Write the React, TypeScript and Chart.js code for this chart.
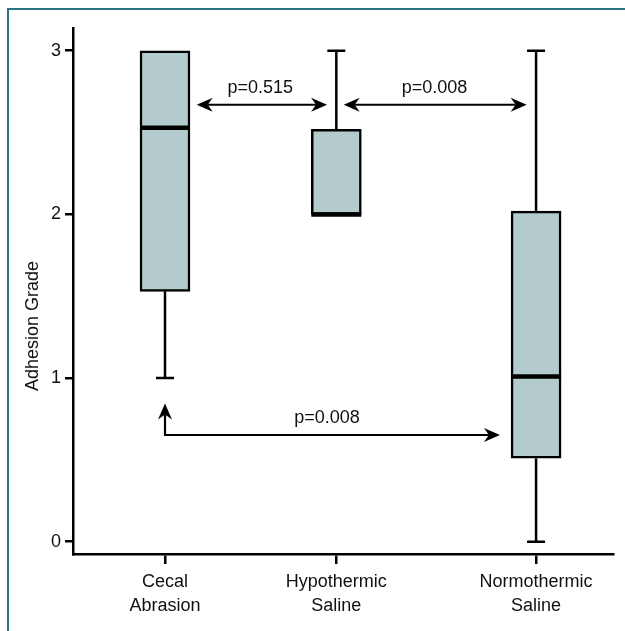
import { useEffect, useRef } from 'react';
import { Chart, registerables } from 'chart.js';

Chart.register(...registerables);

// ---- data ----
const categories = [
  ['Cecal', 'Abrasion'],
  ['Hypothermic', 'Saline'],
  ['Normothermic', 'Saline'],
];
const categoryX = [1, 2, 3.166];
const minValues = [1, 2, 0];
const q1Values = [1.53, 2, 0.51];
const medianValues = [2.53, 2, 1.01];
const q3Values = [3, 2.52, 2.02];
const maxValues = [3, 3, 3];
const yTicks = [0, 1, 2, 3];
const yTitle = 'Adhesion Grade';

// ---- significance annotations (data coordinates) ----
const pLabels = ['p=0.515', 'p=0.008', 'p=0.008'];
const pLabelX = [1.556, 2.573, 1.946];
const pLabelY = [2.775, 2.775, 0.756];
const arrowPaths = [
  [[1.185, 2.67], [1.946, 2.67]],
  [[2.043, 2.67], [3.111, 2.67]],
  [[1, 0.845], [1, 0.652], [2.955, 0.652]],
];

const FONT = '"Liberation Sans", Arial, sans-serif';

function drawHead(ctx: CanvasRenderingContext2D, tx: number, ty: number, dx: number, dy: number) {
  const L = 16, W = 7, N = 11;
  const nx = -dy, ny = dx;
  ctx.beginPath();
  ctx.moveTo(tx, ty);
  ctx.lineTo(tx - dx * L + nx * W, ty - dy * L + ny * W);
  ctx.lineTo(tx - dx * N, ty - dy * N);
  ctx.lineTo(tx - dx * L - nx * W, ty - dy * L - ny * W);
  ctx.closePath();
  ctx.fill();
}

const extrasPlugin = {
  id: 'boxExtras',
  afterDatasetsDraw(chart: any) {
    const { ctx, scales, chartArea } = chart;
    const x = scales.x, y = scales.y;
    ctx.save();
    ctx.strokeStyle = '#000';
    ctx.fillStyle = '#000';
    ctx.lineCap = 'butt';
    categoryX.forEach((cx, i) => {
      const px = x.getPixelForValue(cx);
      ctx.lineWidth = 2.5;
      if (maxValues[i] > q3Values[i]) {
        const a = y.getPixelForValue(q3Values[i]);
        const b = y.getPixelForValue(maxValues[i]);
        ctx.beginPath();
        ctx.moveTo(px, a); ctx.lineTo(px, b);
        ctx.moveTo(px - 9, b); ctx.lineTo(px + 9, b);
        ctx.stroke();
      }
      if (minValues[i] < q1Values[i]) {
        const a = y.getPixelForValue(q1Values[i]);
        const b = y.getPixelForValue(minValues[i]);
        ctx.beginPath();
        ctx.moveTo(px, a); ctx.lineTo(px, b);
        ctx.moveTo(px - 9, b); ctx.lineTo(px + 9, b);
        ctx.stroke();
      }
      const m = y.getPixelForValue(medianValues[i]);
      ctx.lineWidth = 4.5;
      ctx.beginPath();
      ctx.moveTo(px - 25, m); ctx.lineTo(px + 25, m);
      ctx.stroke();
    });

    // arrows
    ctx.lineWidth = 2.2;
    arrowPaths.forEach((path) => {
      const pts = path.map(([vx, vy]) => [x.getPixelForValue(vx), y.getPixelForValue(vy)]);
      const d = (p: number[], q: number[]) => {
        const len = Math.hypot(q[0] - p[0], q[1] - p[1]);
        return [(q[0] - p[0]) / len, (q[1] - p[1]) / len];
      };
      const n = pts.length;
      const [sdx, sdy] = d(pts[1], pts[0]);
      const [edx, edy] = d(pts[n - 2], pts[n - 1]);
      const start = [pts[0][0] - sdx * 11, pts[0][1] - sdy * 11];
      const end = [pts[n - 1][0] - edx * 11, pts[n - 1][1] - edy * 11];
      ctx.beginPath();
      ctx.moveTo(start[0], start[1]);
      for (let k = 1; k < n - 1; k++) ctx.lineTo(pts[k][0], pts[k][1]);
      ctx.lineTo(end[0], end[1]);
      ctx.lineJoin = 'miter';
      ctx.stroke();
      drawHead(ctx, pts[0][0], pts[0][1], sdx, sdy);
      drawHead(ctx, pts[n - 1][0], pts[n - 1][1], edx, edy);
    });

    ctx.font = `18px ${FONT}`;
    ctx.fillStyle = '#111';
    ctx.textAlign = 'center';
    ctx.textBaseline = 'middle';
    pLabels.forEach((t, i) => {
      ctx.fillText(t, x.getPixelForValue(pLabelX[i]), y.getPixelForValue(pLabelY[i]));
    });

    // y-axis title
    ctx.save();
    ctx.translate(chartArea.left - 40, (chartArea.top + chartArea.bottom) / 2 + 35);
    ctx.rotate(-Math.PI / 2);
    ctx.fillText(yTitle, 0, 0);
    ctx.restore();
    ctx.restore();
  },
};

export default function App() {
  const ref = useRef<HTMLCanvasElement>(null);
  useEffect(() => {
    if (!ref.current) return;
    const chart = new Chart(ref.current, {
      type: 'bar',
      data: {
        datasets: [
          {
            data: categoryX.map((cx, i) => ({ x: cx, y: [q1Values[i], q3Values[i]] })) as any,
            backgroundColor: '#b3cbcc',
            borderColor: '#000',
            borderWidth: 2.5,
            borderSkipped: false,
            barThickness: 50,
          },
        ],
      },
      options: {
        animation: false,
        responsive: false,
        events: [],
        layout: { padding: { left: 0, top: 28, right: 12, bottom: 0 } },
        plugins: { legend: { display: false }, tooltip: { enabled: false } },
        scales: {
          x: {
            type: 'linear',
            offset: false,
            min: 0.463,
            max: 3.615,
            afterBuildTicks: (s: any) => { s.ticks = categoryX.map((v) => ({ value: v })); },
            afterFit: (s: any) => { s.height = 77; },
            ticks: {
              autoSkip: false,
              maxRotation: 0,
              padding: 6,
              color: '#111',
              font: { size: 18, family: FONT, lineHeight: 1.35 },
              callback: (v: any) => {
                const i = categoryX.indexOf(v);
                return i >= 0 ? categories[i] : '';
              },
            },
            grid: { offset: false, drawOnChartArea: false, drawTicks: true, tickLength: 10, color: '#000', lineWidth: 2.5 },
            border: { display: true, color: '#000', width: 2.5 },
          },
          y: {
            type: 'linear',
            min: -0.075,
            max: 3.139,
            afterBuildTicks: (s: any) => { s.ticks = yTicks.map((v) => ({ value: v })); },
            afterFit: (s: any) => { s.width = 73; },
            ticks: {
              padding: 4,
              color: '#111',
              font: { size: 18, family: FONT },
            },
            grid: { drawOnChartArea: false, drawTicks: true, tickLength: 8, color: '#000', lineWidth: 2.5 },
            border: { display: true, color: '#000', width: 2.5 },
          },
        },
      },
      plugins: [extrasPlugin],
    });
    return () => chart.destroy();
  }, []);

  return (
    <div style={{ position: 'absolute', left: 0, top: 0, width: 625, height: 631, overflow: 'hidden', background: '#fff' }}>
      <div
        style={{
          position: 'absolute', left: 7, top: 8, width: 800, height: 800,
          borderLeft: '2px solid #2b7180', borderTop: '2px solid #2b7180',
        }}
      />
      <canvas ref={ref} width={625} height={631} style={{ position: 'absolute', left: 0, top: 0 }} />
    </div>
  );
}
